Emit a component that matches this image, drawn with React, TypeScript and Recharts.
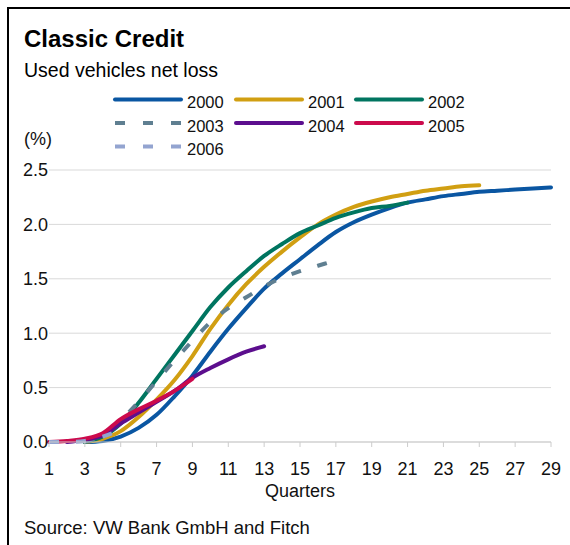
import React from "react";
import { LineChart, Line, XAxis, YAxis, CartesianGrid } from "recharts";

const quarters = [1,2,3,4,5,6,7,8,9,10,11,12,13,14,15,16,17,18,19,20,21,22,23,24,25,26,27,28,29];
const xTicks = [1,3,5,7,9,11,13,15,17,19,21,23,25,27,29];
const yTicks = [0, 0.5, 1, 1.5, 2, 2.5];

const s2000 = [null,null,0.0,0.01,0.05,0.13,0.25,0.42,0.61,0.83,1.04,1.23,1.41,1.55,1.68,1.81,1.93,2.02,2.09,2.15,2.20,2.23,2.26,2.28,2.30,2.31,2.32,2.33,2.34];
const s2001 = [null,null,0.0,0.03,0.10,0.23,0.39,0.57,0.79,1.04,1.26,1.45,1.61,1.75,1.88,2.00,2.09,2.16,2.21,2.25,2.28,2.31,2.33,2.35,2.36];
const s2002 = [null,null,0.0,0.05,0.17,0.36,0.58,0.80,1.02,1.24,1.42,1.57,1.71,1.82,1.92,1.99,2.06,2.11,2.15,2.17,2.20];
const s2003 = [null,null,0.0,0.07,0.20,0.37,0.56,0.75,0.93,1.10,1.23,1.33,1.43,1.51,1.57,1.62,1.67];
const s2004 = [null,0.0,0.02,0.06,0.17,0.27,0.37,0.47,0.59,0.68,0.76,0.83,0.88];
const s2005 = [0.0,0.01,0.03,0.08,0.21,0.30,0.38,0.47,0.58];
const s2006 = [0.0,0.0,0.01,0.05,0.11];

const seriesNames = ["2000","2001","2002","2003","2004","2005","2006"];
const seriesValues = [s2000, s2001, s2002, s2003, s2004, s2005, s2006];
const seriesColors = ["#0a56a2","#d19f12","#007560","#5f7f91","#5c0e8e","#cc0a4c","#93a4d0"];
const seriesDashed = [false,false,false,true,false,false,true];

const data = quarters.map((q, i) => {
  const row: Record<string, number | null> = { q };
  seriesNames.forEach((n, k) => {
    const v = seriesValues[k][i];
    row["y" + n] = v === undefined ? null : v;
  });
  return row;
});

const FONT = '"Liberation Sans", Arial, Helvetica, sans-serif';

export default function App() {
  const legendCols = [115, 236, 356];
  const legendRows = [108, 131.5, 155];
  return (
    <div style={{ position: "absolute", left: 0, top: 0, width: 570, height: 545, background: "#fff", fontFamily: FONT }}>
      <div style={{ position: "absolute", left: 7, top: 7, width: 563, height: 538, borderTop: "2px solid #000", borderLeft: "2px solid #000", boxSizing: "border-box" }} />
      <div style={{ position: "absolute", left: 0, top: 0 }}>
        <LineChart width={570} height={545} data={data} margin={{ top: 170, right: 19, bottom: 63, left: 0 }}>
          <CartesianGrid vertical={false} stroke="#d9d9d9" strokeWidth={1} />
          <XAxis
            dataKey="q"
            type="number"
            domain={[1, 29]}
            ticks={xTicks}
            interval={0}
            height={40}
            tickSize={5}
            tickMargin={15}
            stroke="#cccccc"
            tick={{ fill: "#111", fontSize: 18, fontFamily: FONT }}
          />
          <YAxis
            type="number"
            domain={[0, 2.5]}
            ticks={yTicks}
            width={49}
            axisLine={false}
            tickLine={false}
            tickSize={0}
            tickMargin={1}
            tickFormatter={(v: number) => v.toFixed(1)}
            tick={{ fill: "#111", fontSize: 18, fontFamily: FONT }}
          />
          {seriesNames.map((n, k) => (
            <Line
              key={n}
              dataKey={"y" + n}
              type="monotone"
              stroke={seriesColors[k]}
              strokeWidth={4}
              strokeDasharray={seriesDashed[k] ? "10 17" : undefined}
              strokeLinecap={seriesDashed[k] ? "butt" : "round"}
              strokeLinejoin="round"
              dot={false}
              activeDot={false}
              isAnimationActive={false}
            />
          ))}
        </LineChart>
      </div>
      <svg width={570} height={545} style={{ position: "absolute", left: 0, top: 0, pointerEvents: "none" }}>
        <text x={24} y={47} fontFamily={FONT} fontSize={24} fontWeight="bold" fill="#000">Classic Credit</text>
        <text x={24} y={77} fontFamily={FONT} fontSize={19.5} fill="#000">Used vehicles net loss</text>
        <text x={24} y={145} fontFamily={FONT} fontSize={18} fill="#111">(%)</text>
        {seriesNames.map((n, k) => {
          const col = k % 3;
          const row = Math.floor(k / 3);
          const x0 = legendCols[col];
          const by = legendRows[row];
          const ly = by - 8.5;
          return (
            <g key={n}>
              <line
                x1={x0}
                x2={x0 + 66}
                y1={ly}
                y2={ly}
                stroke={seriesColors[k]}
                strokeWidth={4}
                strokeDasharray={seriesDashed[k] ? "10 18" : undefined}
                strokeLinecap={seriesDashed[k] ? "butt" : "round"}
              />
              <text x={x0 + 72} y={by} fontFamily={FONT} fontSize={16.5} fill="#111">{n}</text>
            </g>
          );
        })}
        <text x={300} y={497} textAnchor="middle" fontFamily={FONT} fontSize={18} fill="#111">Quarters</text>
        <text x={24} y={534} fontFamily={FONT} fontSize={18.5} fill="#111">Source: VW Bank GmbH and Fitch</text>
      </svg>
    </div>
  );
}
